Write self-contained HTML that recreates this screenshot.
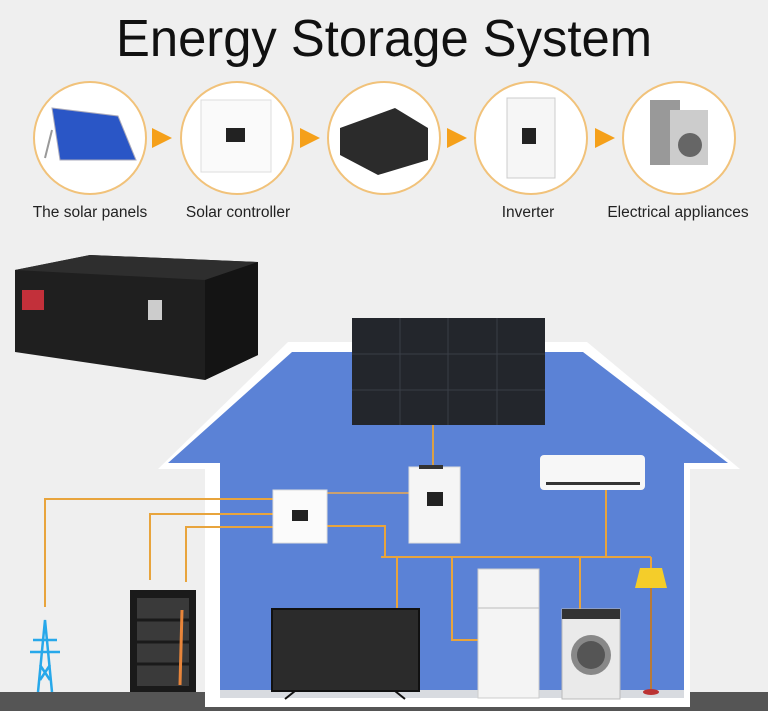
<!DOCTYPE html>
<html><head><style>
html,body{margin:0;padding:0;background:#efefef;}
svg{display:block;}
text{font-family:"Liberation Sans",sans-serif;}
</style></head><body>
<svg width="768" height="711" viewBox="0 0 768 711" xmlns="http://www.w3.org/2000/svg">
<rect width="768" height="711" fill="#efefef"/>
<text x="384" y="56" font-size="52" text-anchor="middle" fill="#111" textLength="536" lengthAdjust="spacingAndGlyphs">Energy Storage System</text>
<g fill="#fff" stroke="#f1c27a" stroke-width="2">
<ellipse cx="90" cy="138" rx="56" ry="56"/>
<ellipse cx="237" cy="138" rx="56" ry="56"/>
<ellipse cx="384" cy="138" rx="56" ry="56"/>
<ellipse cx="531" cy="138" rx="56" ry="56"/>
<ellipse cx="679" cy="138" rx="56" ry="56"/>
</g>
<g fill="#f5a01a">
<polygon points="152,128 152,148 172,138"/>
<polygon points="300,128 300,148 320,138"/>
<polygon points="447,128 447,148 467,138"/>
<polygon points="595,128 595,148 615,138"/>
</g>
<polygon points="52,108 118,116 136,160 60,160" fill="#2a56c6" stroke="#aab" stroke-width="1"/>
<line x1="52" y1="130" x2="45" y2="158" stroke="#999" stroke-width="2"/>
<rect x="201" y="100" width="70" height="72" fill="#fafafa" stroke="#ddd"/>
<rect x="226" y="128" width="19" height="14" fill="#222"/>
<polygon points="340,128 395,108 428,128 428,160 378,175 340,155" fill="#2b2b2b"/>
<rect x="507" y="98" width="48" height="80" fill="#f6f6f6" stroke="#ccc"/>
<rect x="522" y="128" width="14" height="16" fill="#222"/>
<rect x="650" y="100" width="30" height="65" fill="#999"/>
<rect x="670" y="110" width="38" height="55" fill="#ccc"/>
<circle cx="690" cy="145" r="12" fill="#666"/>
<g font-size="15.5" fill="#222" text-anchor="middle">
<text x="90" y="217">The solar panels</text>
<text x="238" y="217">Solar controller</text>
<text x="528" y="217">Inverter</text>
<text x="678" y="217">Electrical appliances</text>
</g>
<polygon points="15,270 90,255 258,262 258,355 205,380 15,352" fill="#1f1f1f"/>
<polygon points="15,270 90,255 258,262 205,280" fill="#2e2e2e"/>
<polygon points="205,280 258,262 258,355 205,380" fill="#141414"/>
<rect x="22" y="290" width="22" height="20" fill="#c2303a"/>
<rect x="148" y="300" width="14" height="20" fill="#ccc"/>
<rect x="0" y="692" width="768" height="19" fill="#555"/>
<polygon points="158,469 288,342 587,342 740,469 690,469 690,707 205,707 205,469" fill="#fff"/>
<polygon points="168,463 292,352 583,352 728,463 684,463 684,697 220,697 220,463" fill="#5b82d6"/>
<rect x="220" y="690" width="464" height="8" fill="#d8dbe0"/>
<rect x="352" y="318" width="193" height="107" fill="#23262c"/>
<g stroke="#3a3e46" stroke-width="1">
<line x1="400" y1="318" x2="400" y2="425"/><line x1="448" y1="318" x2="448" y2="425"/><line x1="497" y1="318" x2="497" y2="425"/>
<line x1="352" y1="354" x2="545" y2="354"/><line x1="352" y1="390" x2="545" y2="390"/>
</g>
<line x1="433" y1="425" x2="433" y2="467" stroke="#d9a047" stroke-width="2"/>
<g stroke="#e8a43c" stroke-width="2" fill="none">
<polyline points="45,607 45,499 273,499"/>
<polyline points="150,580 150,514 273,514"/>
<polyline points="186,582 186,527 273,527"/>
<polyline points="327,526 385,526 385,557"/>
<line x1="327" y1="493" x2="409" y2="493" stroke="#c9a070"/>
<line x1="381" y1="557" x2="651" y2="557"/>
<line x1="397" y1="557" x2="397" y2="608"/>
<polyline points="452,557 452,640 478,640"/>
<line x1="580" y1="557" x2="580" y2="609"/>
<line x1="606" y1="557" x2="606" y2="490"/>
<line x1="651" y1="557" x2="651" y2="570"/>
</g>
<rect x="273" y="490" width="54" height="53" fill="#fbfbfb" stroke="#ddd"/>
<rect x="292" y="510" width="16" height="11" fill="#222"/>
<rect x="409" y="467" width="51" height="76" fill="#f5f5f5" stroke="#ddd"/>
<rect x="419" y="465" width="24" height="4" fill="#333"/>
<rect x="427" y="492" width="16" height="14" fill="#222"/>
<rect x="540" y="455" width="105" height="35" rx="4" fill="#f7f7f7"/>
<rect x="546" y="482" width="94" height="3" fill="#333"/>
<rect x="272" y="609" width="147" height="82" fill="#2b2b2b" stroke="#111" stroke-width="2"/>
<line x1="285" y1="699" x2="295" y2="691" stroke="#111" stroke-width="2"/>
<line x1="405" y1="699" x2="395" y2="691" stroke="#111" stroke-width="2"/>
<rect x="478" y="569" width="61" height="129" fill="#f4f4f4" stroke="#ccc"/>
<line x1="478" y1="608" x2="539" y2="608" stroke="#bbb"/>
<rect x="562" y="609" width="58" height="90" fill="#eaeaea" stroke="#bbb"/>
<rect x="562" y="609" width="58" height="10" fill="#333"/>
<circle cx="591" cy="655" r="20" fill="#888"/>
<circle cx="591" cy="655" r="14" fill="#555"/>
<polygon points="640,568 662,568 667,588 635,588" fill="#f4cd2a"/>
<line x1="651" y1="588" x2="651" y2="690" stroke="#b77a3a" stroke-width="2"/>
<ellipse cx="651" cy="692" rx="8" ry="3" fill="#b33"/>
<g stroke="#27a8ea" stroke-width="2.5" fill="none">
<polyline points="38,692 45,620 52,692"/>
<line x1="33" y1="640" x2="57" y2="640"/>
<line x1="30" y1="652" x2="60" y2="652"/>
<line x1="40" y1="665" x2="50" y2="680"/>
<line x1="50" y1="665" x2="40" y2="680"/>
</g>
<rect x="130" y="590" width="66" height="102" fill="#1a1a1a"/>
<rect x="137" y="598" width="52" height="88" fill="#3a3a3a"/>
<g stroke="#1a1a1a" stroke-width="3"><line x1="137" y1="620" x2="189" y2="620"/><line x1="137" y1="642" x2="189" y2="642"/><line x1="137" y1="664" x2="189" y2="664"/></g>
<line x1="182" y1="610" x2="180" y2="685" stroke="#e8853a" stroke-width="3"/>
</svg>
</body></html>
